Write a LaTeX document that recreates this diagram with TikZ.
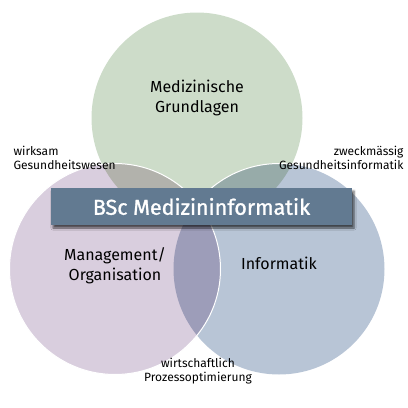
\documentclass[tikz,border=0pt]{standalone}
\usepackage{fontspec}
\setmainfont{Fira Sans}
\newfontfamily\titlefont[FakeBold=1.2]{Fira Sans}
\usetikzlibrary{shadows.blur}

\definecolor{medgreen}{HTML}{CDDCC9}
\definecolor{mgmtlila}{HTML}{D9CEDE}
\definecolor{infblue}{HTML}{B8C5D6}
\definecolor{medmgmt}{HTML}{B2B2AC}
\definecolor{medinf}{HTML}{97ABA9}
\definecolor{mgmtinf}{HTML}{9D9DB9}
\definecolor{allthree}{HTML}{8A93A0}
\definecolor{bannerblue}{HTML}{627A91}

\begin{document}
\begin{tikzpicture}[x=1pt, y=-1pt,
    bigtext/.style={font=\fontsize{16}{20}\selectfont, align=center, text=black},
    smalltext/.style={font=\fontsize{12}{14}\selectfont, text=black}]
    \useasboundingbox (0,0) rectangle (408,408);
    \def\rad{105.5pt}

    % Mittelpunkte
    \coordinate (med) at (197,118);
    \coordinate (mgmt) at (115,269);
    \coordinate (inf) at (279,269);

    % Kreise
    \fill[medgreen] (med) circle (\rad);
    \fill[infblue] (inf) circle (\rad);
    \fill[mgmtlila] (mgmt) circle (\rad);

    % Schnittmengen
    \begin{scope}
        \clip (inf) circle (\rad);
        \fill[mgmtinf] (mgmt) circle (\rad);
    \end{scope}
    \begin{scope}
        \clip (med) circle (\rad);
        \fill[medinf] (inf) circle (\rad);
        \fill[medmgmt] (mgmt) circle (\rad);
        \clip (inf) circle (\rad);
        \fill[allthree] (mgmt) circle (\rad);
    \end{scope}

    % weisse Raender
    \begin{scope}
        \clip (med) circle (\rad);
        \draw[white, line width=1pt] (inf) circle (\rad);
    \end{scope}
    \draw[white, line width=1pt] (mgmt) circle (\rad);

    % Titel
    \node[fill=bannerblue, minimum width=301pt, minimum height=37pt,
        blur shadow={shadow xshift=2pt, shadow yshift=-3pt, shadow opacity=65},
        text=white, font=\titlefont\fontsize{21.5}{24}\selectfont] (title) at (201.5,206.5) {BSc Medizininformatik};

    % Kreistexte
    \node[bigtext] (medtext) at (197,98) {Medizinische\\Grundlagen};
    \node[bigtext] (mgmttext) at (115,266) {Management/\\Organisation};
    \node[bigtext] (inftext) at (279,263) {Informatik};

    % Schnittmengentexte
    \node[smalltext, anchor=west, align=left] (wirksam) at (10,158) {wirksam\\Gesundheitswesen};
    \node[smalltext, anchor=east, align=right] (zweck) at (407,158) {zweckmässig\\Gesundheitsinformatik};
    \node[smalltext, align=center] (wirtschaft) at (198,371) {wirtschaftlich\\Prozessoptimierung};
\end{tikzpicture}
\end{document}
